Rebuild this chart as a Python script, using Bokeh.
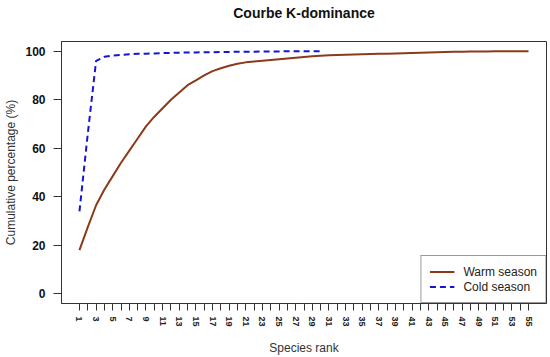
from bokeh.plotting import figure
from bokeh.models import FixedTicker, Legend, LegendItem, Range1d
from bokeh.embed import file_html
from bokeh.resources import INLINE

# ---- data ----
warm_rank = list(range(1, 56))
warm_pct = [18, 27.5, 36.5, 43, 48.5, 54, 59, 64, 69, 73,
            76.5, 80, 83, 86, 88, 90, 91.8, 93, 94, 94.8,
            95.4, 95.8, 96.1, 96.4, 96.7, 97.0, 97.3, 97.6, 97.9, 98.1,
            98.3, 98.4, 98.5, 98.6, 98.7, 98.8, 98.9, 99.0, 99.1, 99.2,
            99.3, 99.4, 99.5, 99.6, 99.7, 99.8, 99.8, 99.9, 99.9, 99.9,
            100, 100, 100, 100, 100]
cold_rank = list(range(1, 31))
cold_pct = [34, 66, 96, 97.7, 98.2, 98.5, 98.7, 98.9, 99.0, 99.1,
            99.2, 99.3, 99.4, 99.5, 99.5, 99.6, 99.6, 99.7, 99.7, 99.8,
            99.8, 99.8, 99.9, 99.9, 99.9, 100, 100, 100, 100, 100]
x_ticks = list(range(1, 56))
y_ticks = [0, 20, 40, 60, 80, 100]
series_names = ["Warm season", "Cold season"]
title_text = "Courbe K-dominance"
x_title = "Species rank"
y_title = "Cumulative percentage (%)"

FONT = "Liberation Sans"

p = figure(width=550, height=357, output_backend="svg", toolbar_location=None,
           x_range=Range1d(-1.16, 57.16), y_range=Range1d(-4, 104),
           min_border_left=61, min_border_right=4, min_border_top=41,
           min_border_bottom=53, title=title_text + "\n ")

p.title.text_font = FONT
p.title.text_font_size = "14px"
p.title.text_font_style = "bold"
p.title.align = "center"
p.title.vertical_align = "top"
p.title.standoff = 6
p.title.text_color = "#111111"

p.outline_line_color = "#333333"
p.outline_line_width = 1
p.xgrid.visible = False
p.ygrid.visible = False

# x axis
xa = p.xaxis[0]
xa.ticker = FixedTicker(ticks=x_ticks)
xa.major_label_overrides = {t: (str(t) if t % 2 == 1 else "") for t in x_ticks}
xa.major_label_orientation = "vertical"
xa.major_label_text_font = FONT
xa.major_label_text_font_size = "9px"
xa.major_label_text_font_style = "bold"
xa.major_label_text_color = "#222222"
xa.major_label_standoff = 6
xa.major_tick_in = 0
xa.major_tick_out = 7
xa.minor_tick_line_color = None
xa.axis_line_color = "#333333"
xa.major_tick_line_color = "#333333"
xa.axis_label = x_title
xa.axis_label_text_font = FONT
xa.axis_label_text_font_size = "12px"
xa.axis_label_text_font_style = "normal"
xa.axis_label_text_color = "#333333"
xa.axis_label_standoff = 11

# y axis
ya = p.yaxis[0]
ya.ticker = FixedTicker(ticks=y_ticks)
ya.major_label_text_font = FONT
ya.major_label_text_font_size = "12px"
ya.major_label_text_font_style = "bold"
ya.major_label_text_color = "#111111"
ya.major_label_standoff = 8
ya.major_tick_in = 0
ya.major_tick_out = 8
ya.minor_tick_line_color = None
ya.axis_line_color = "#333333"
ya.major_tick_line_color = "#333333"
ya.axis_label = y_title
ya.axis_label_text_font = FONT
ya.axis_label_text_font_size = "12px"
ya.axis_label_text_font_style = "normal"
ya.axis_label_text_color = "#333333"
ya.axis_label_standoff = 4

r_warm = p.line(warm_rank, warm_pct, line_color="#8B3A1A", line_width=2)
r_cold = p.line(cold_rank, cold_pct, line_color="#1414D2", line_width=2,
                line_dash="6 4")

legend = Legend(items=[LegendItem(label=series_names[0], renderers=[r_warm]),
                       LegendItem(label=series_names[1], renderers=[r_cold])],
                location="bottom_right", margin=0)
legend.padding = 8
legend.spacing = 0
legend.glyph_width = 25
legend.glyph_height = 15
legend.label_height = 15
legend.label_standoff = 9
legend.label_text_font = FONT
legend.label_text_font_size = "12px"
legend.label_text_color = "#222222"
legend.border_line_color = "#333333"
legend.border_line_width = 1
legend.background_fill_alpha = 1
p.add_layout(legend, "center")

open("out.html", "w").write(file_html(p, INLINE))
